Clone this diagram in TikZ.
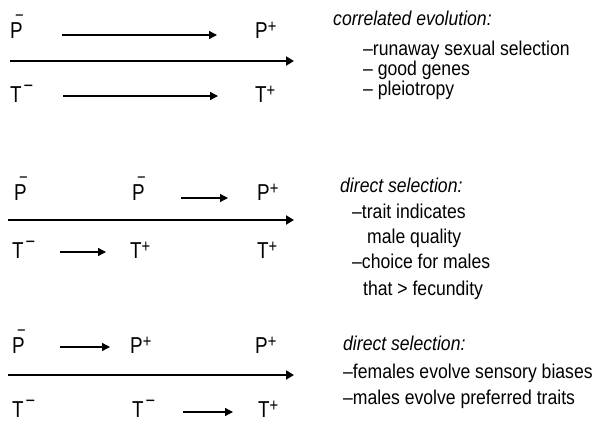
\documentclass[tikz,border=0pt]{standalone}
\usepackage{fontspec}
\setmainfont{Liberation Sans}
\newfontfamily\condfont[FakeStretch=0.88]{Liberation Sans}
\newfontfamily\headfont[FakeStretch=0.88]{Liberation Sans}
\newfontfamily\labfont[FakeStretch=0.82]{Liberation Sans}
\usetikzlibrary{arrows.meta}
\newcommand\Pminus{\makebox[0pt][l]{\kern5pt\raisebox{17pt}{\fontsize{18}{18}\selectfont −}}P}
\newcommand\Pplus{P\raisebox{5.5pt}{\fontsize{18}{18}\selectfont +}}
\newcommand\Tminus{T\kern2pt\raisebox{10pt}{\fontsize{20}{20}\selectfont −}}
\newcommand\Tplus{T\raisebox{5.5pt}{\fontsize{18}{18}\selectfont +}}
\begin{document}
\begin{tikzpicture}[x=1pt,y=-1pt,
  lab/.style={anchor=base west,inner sep=0pt,font=\labfont\fontsize{23}{25}\selectfont},
  txt/.style={anchor=base west,inner sep=0pt,font=\condfont\fontsize{20}{22}\selectfont},
  head/.style={anchor=base west,inner sep=0pt,font=\headfont\fontsize{20}{22}\selectfont\itshape},
  small/.style={line width=1.3pt,-{Triangle[length=8pt,width=8pt]}},
  main/.style={line width=2.8pt,-{Triangle[length=8pt,width=9pt]}}]
\useasboundingbox (0,0) rectangle (603,424);
% ---------- panel 1
\node[lab] (p1a) at (10,38) {\Pminus};
\node[lab] (p1b) at (255,38) {\Pplus};
\node[lab] (t1a) at (10,102) {\Tminus};
\node[lab] (t1b) at (255,102) {\Tplus};
\coordinate (a1s) at (62,35); \coordinate (a1e) at (217,35);
\coordinate (b1s) at (63,96); \coordinate (b1e) at (218,96);
\coordinate (m1s) at (10,61); \coordinate (m1e) at (294,61);
\draw[small] (a1s) -- (a1e);
\draw[small] (b1s) -- (b1e);
\draw[main] (m1s) -- (m1e);
\node[head] (h1) at (333,25) {correlated evolution:};
\node[txt] (h1a) at (363,55) {–runaway sexual selection};
\node[txt] (h1b) at (363,75) {– good genes};
\node[txt] (h1c) at (363,95) {– pleiotropy};
% ---------- panel 2
\node[lab] (p2a) at (14,200) {\Pminus};
\node[lab] (p2b) at (132,200) {\Pminus};
\node[lab] (p2c) at (257,200) {\Pplus};
\node[lab] (t2a) at (12,258) {\Tminus};
\node[lab] (t2b) at (130,258) {\Tplus};
\node[lab] (t2c) at (257,258) {\Tplus};
\coordinate (a2s) at (181,198); \coordinate (a2e) at (228,198);
\coordinate (b2s) at (60,252); \coordinate (b2e) at (106,252);
\coordinate (m2s) at (8,220); \coordinate (m2e) at (294,220);
\draw[small] (a2s) -- (a2e);
\draw[small] (b2s) -- (b2e);
\draw[main] (m2s) -- (m2e);
\node[head] (h2) at (340,192) {direct selection:};
\node[txt] (h2a) at (352,218) {–trait indicates};
\node[txt] (h2b) at (367,243) {male quality};
\node[txt] (h2c) at (352,268) {–choice for males};
\node[txt] (h2d) at (363,295) {that > fecundity};
% ---------- panel 3
\node[lab] (p3a) at (12,353) {\Pminus};
\node[lab] (p3b) at (130,353) {\Pplus};
\node[lab] (p3c) at (255,353) {\Pplus};
\node[lab] (t3a) at (12,417) {\Tminus};
\node[lab] (t3b) at (132,417) {\Tminus};
\node[lab] (t3c) at (258,417) {\Tplus};
\coordinate (a3s) at (60,347); \coordinate (a3e) at (110,347);
\coordinate (b3s) at (183,412); \coordinate (b3e) at (233,412);
\coordinate (m3s) at (8,375); \coordinate (m3e) at (294,375);
\draw[small] (a3s) -- (a3e);
\draw[small] (b3s) -- (b3e);
\draw[main] (m3s) -- (m3e);
\node[head] (h3) at (343,350) {direct selection:};
\node[txt] (h3a) at (343,378) {–females evolve sensory biases};
\node[txt] (h3b) at (343,404) {–males evolve preferred traits};
\end{tikzpicture}
\end{document}
